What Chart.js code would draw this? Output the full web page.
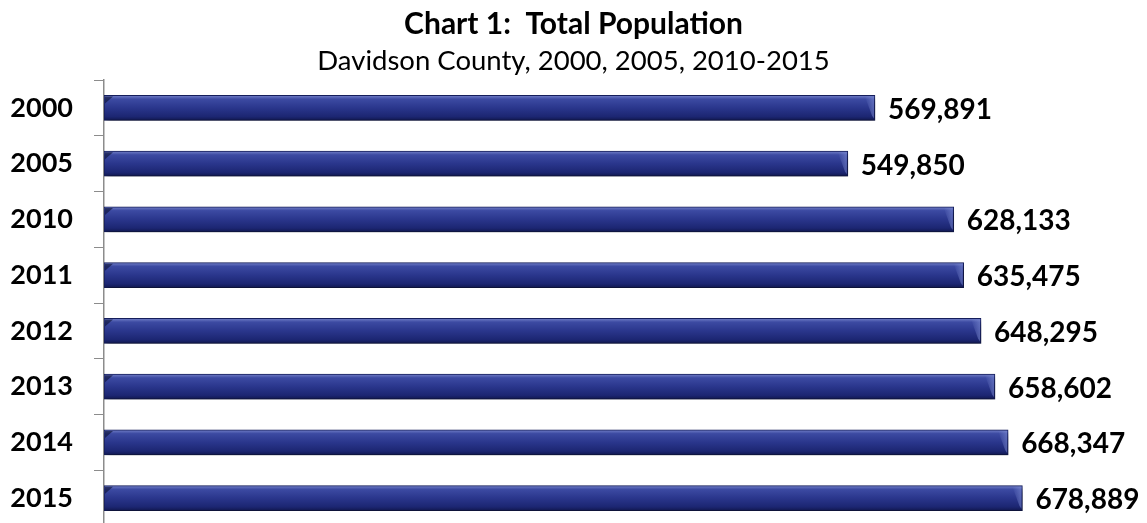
<!DOCTYPE html>
<html>
<head>
<meta charset="utf-8">
<script src="https://cdn.jsdelivr.net/npm/chart.js@4"></script>
<style>
  html, body { margin: 0; padding: 0; background: #fff; overflow: hidden; }
  canvas { display: block; }
</style>
</head>
<body>
<canvas id="popChart" width="1147" height="526"></canvas>
<script>
// population by year
const years = ['2000', '2005', '2010', '2011', '2012', '2013', '2014', '2015'];
const population = [569891, 549850, 628133, 635475, 648295, 658602, 668347, 678889];
const xMax = 771000;

const FONT = 'Lato, "Open Sans", sans-serif';
const BAR_H = 25;

// vertical gradient for each bar so it looks like a rounded tube
function barFill(context) {
    const chart = context.chart;
    const yScale = chart.scales.y;
    if (!yScale || !chart.chartArea) return '#2b388c';
    const cy = yScale.getPixelForValue(context.dataIndex);
    if (isNaN(cy)) return '#2b388c';
    const top = cy - BAR_H / 2;
    const g = chart.ctx.createLinearGradient(0, top, 0, top + BAR_H);
    g.addColorStop(0, '#7380c8');
    g.addColorStop(0.15, '#3c4aa2');
    g.addColorStop(0.5, '#2a368c');
    g.addColorStop(0.85, '#1c2672');
    g.addColorStop(1, '#111850');
    return g;
}

// drop shadow under the bars
const barShadow = {
    id: 'barShadow',
    beforeDatasetDraw(chart) {
        const ctx = chart.ctx;
        ctx.save();
        ctx.shadowColor = 'rgba(0,0,0,0.45)';
        ctx.shadowBlur = 6;
        ctx.shadowOffsetX = 2;
        ctx.shadowOffsetY = 4;
    },
    afterDatasetDraw(chart) {
        chart.ctx.restore();
    }
};

// bevelled ends and the value printed after each bar
const barEnds = {
    id: 'barEnds',
    afterDatasetsDraw(chart) {
        const ctx = chart.ctx;
        const meta = chart.getDatasetMeta(0);
        meta.data.forEach((bar, i) => {
            const top = bar.y - bar.height / 2;
            const h = bar.height;
            const x = bar.x;
            const left = bar.base;
            ctx.save();
            // end cap
            const eg = ctx.createLinearGradient(x - 10, 0, x, 0);
            eg.addColorStop(0, 'rgba(130,145,215,0.0)');
            eg.addColorStop(1, 'rgba(130,145,215,0.6)');
            ctx.fillStyle = eg;
            ctx.beginPath();
            ctx.moveTo(x - 10, top + 1);
            ctx.lineTo(x - 1, top + 1);
            ctx.lineTo(x - 1, top + h - 2);
            ctx.lineTo(x - 3, top + h - 5);
            ctx.closePath();
            ctx.fill();
            // dark notch at the left end
            ctx.fillStyle = 'rgba(10,15,50,0.6)';
            ctx.beginPath();
            ctx.moveTo(left + 1, top + 1);
            ctx.lineTo(left + 9, top + 1);
            ctx.lineTo(left + 1, top + 8);
            ctx.closePath();
            ctx.fill();
            ctx.restore();

            ctx.save();
            ctx.fillStyle = '#000';
            ctx.font = 'bold 28px ' + FONT;
            ctx.textAlign = 'left';
            ctx.textBaseline = 'middle';
            ctx.fillText(population[i].toLocaleString('en-US'), x + 13, bar.y + 2);
            ctx.restore();
        });
    }
};

new Chart(document.getElementById('popChart'), {
    type: 'bar',
    data: {
        labels: years,
        datasets: [{
            data: population,
            backgroundColor: barFill,
            borderColor: '#161f5e',
            borderWidth: 1,
            borderSkipped: false,
            barThickness: BAR_H
        }]
    },
    options: {
        indexAxis: 'y',
        responsive: false,
        animation: false,
        layout: { padding: 0 },
        plugins: {
            legend: { display: false },
            tooltip: { enabled: false },
            title: {
                display: true,
                text: 'Chart 1:  Total Population',
                color: '#000',
                font: { family: FONT, size: 30, weight: 'bold' },
                padding: { top: 6, bottom: 3 }
            },
            subtitle: {
                display: true,
                text: 'Davidson County, 2000, 2005, 2010-2015',
                color: '#000',
                font: { family: FONT, size: 27.5, weight: 'normal' },
                padding: { top: 0, bottom: 2 }
            }
        },
        scales: {
            x: {
                display: false,
                min: 0,
                max: xMax
            },
            y: {
                afterFit(scale) {
                    scale.width = 104;
                    // no extra room above/below the first and last labels
                    scale.paddingTop = 0;
                    scale.paddingBottom = 0;
                },
                grid: {
                    drawOnChartArea: false,
                    drawTicks: true,
                    tickLength: 10,
                    color: '#8c8c8c',
                    offset: true
                },
                border: { display: true, color: '#8c8c8c', width: 1.5 },
                ticks: {
                    color: '#000',
                    padding: 21,
                    font: { family: FONT, size: 27, weight: 'bold' }
                }
            }
        }
    },
    plugins: [barShadow, barEnds]
});
</script>
</body>
</html>
